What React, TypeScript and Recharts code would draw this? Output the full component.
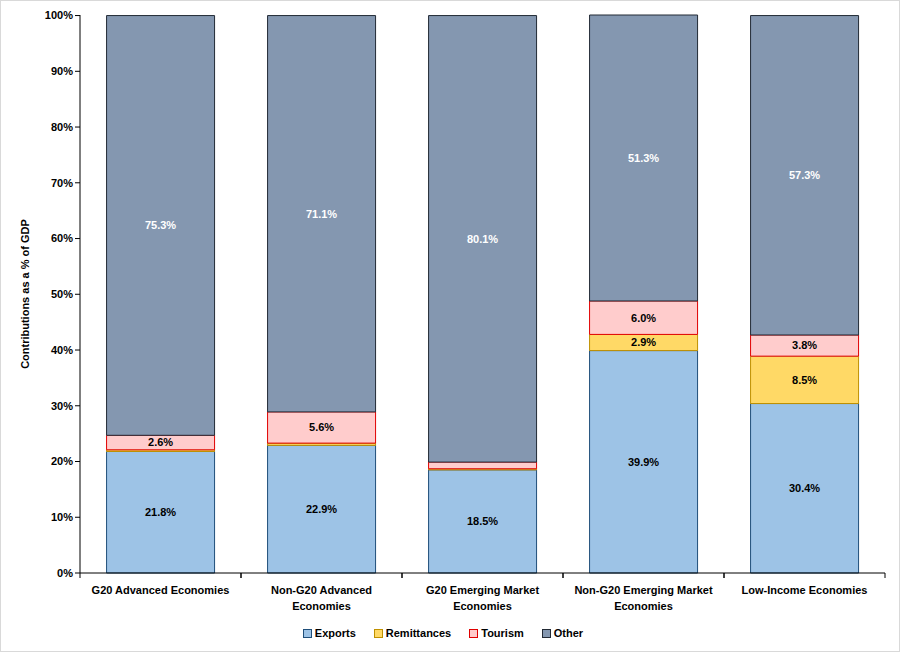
import React from "react";
import {
  BarChart,
  Bar,
  XAxis,
  YAxis,
  Legend,
  LabelList,
} from "recharts";

const CATEGORIES = [
  "G20 Advanced Economies",
  "Non-G20 Advanced Economies",
  "G20 Emerging Market Economies",
  "Non-G20 Emerging Market Economies",
  "Low-Income Economies",
];
const EXPORTS = [21.8, 22.9, 18.5, 39.9, 30.4];
const REMITTANCES = [0.3, 0.4, 0.2, 2.9, 8.5];
const TOURISM = [2.6, 5.6, 1.2, 6.0, 3.8];
const OTHER = [75.3, 71.1, 80.1, 51.3, 57.3];
const Y_TICKS = [0, 10, 20, 30, 40, 50, 60, 70, 80, 90, 100];

const SERIES = [
  { key: "exports", name: "Exports", fill: "#9DC3E6", stroke: "#1F4E79", label: "#000" },
  { key: "remittances", name: "Remittances", fill: "#FFD966", stroke: "#BF9000", label: "#000" },
  { key: "tourism", name: "Tourism", fill: "#FFCCCC", stroke: "#E00000", label: "#000" },
  { key: "other", name: "Other", fill: "#8497B0", stroke: "#222A35", label: "#fff" },
];

const data = CATEGORIES.map((name, i) => ({
  name,
  exports: EXPORTS[i],
  remittances: REMITTANCES[i],
  tourism: TOURISM[i],
  other: OTHER[i],
}));

const FONT = "'Liberation Sans', Arial, sans-serif";

const fmt = (v: any) => (Number(v) >= 2 ? `${Number(v).toFixed(1)}%` : "");

// simple word wrap by character count
function wrap(label: string, max = 23) {
  const lines: string[] = [];
  let cur = "";
  label.split(" ").forEach((w) => {
    const next = cur ? cur + " " + w : w;
    if (next.length > max && cur) {
      lines.push(cur);
      cur = w;
    } else {
      cur = next;
    }
  });
  if (cur) lines.push(cur);
  return lines;
}

function CategoryTick(props: any) {
  const { x, y, payload } = props;
  const half = payload && payload.offset ? payload.offset : 80.5;
  const lines = wrap(String(payload.value));
  return (
    <g>
      <line x1={x - half} y1={y - 8} x2={x - half} y2={y - 3} stroke="#000" />
      <line x1={x + half} y1={y - 8} x2={x + half} y2={y - 3} stroke="#000" />
      <text
        x={x}
        y={y + 13}
        textAnchor="middle"
        fontSize={11}
        fontWeight="bold"
        fontFamily={FONT}
        fill="#000"
      >
        {lines.map((l, i) => (
          <tspan key={i} x={x} dy={i === 0 ? 0 : 16}>
            {l}
          </tspan>
        ))}
      </text>
    </g>
  );
}

function LegendContent() {
  return (
    <div
      style={{
        display: "flex",
        justifyContent: "center",
        gap: 18,
        fontSize: 11,
        fontWeight: "bold",
        fontFamily: FONT,
        color: "#000",
      }}
    >
      {SERIES.map((s) => (
        <div key={s.key} style={{ display: "flex", alignItems: "center" }}>
          <span
            style={{
              display: "inline-block",
              width: 7,
              height: 7,
              background: s.fill,
              border: `1px solid ${s.stroke}`,
              marginRight: 3,
            }}
          />
          {s.name}
        </div>
      ))}
    </div>
  );
}

export default function App() {
  return (
    <div
      style={{
        position: "absolute",
        left: 0,
        top: 0,
        width: 898,
        height: 650,
        border: "1px solid #d9d9d9",
        background: "#fff",
      }}
    >
      <BarChart
        width={898}
        height={650}
        data={data}
        barCategoryGap="16.5%"
        margin={{ top: 14, right: 14, left: 0, bottom: 0 }}
      >
        <XAxis
          dataKey="name"
          interval={0}
          tickLine={false}
          axisLine={{ stroke: "#000" }}
          height={54}
          tick={<CategoryTick />}
        />
        <YAxis
          type="number"
          domain={[0, 100]}
          ticks={Y_TICKS}
          interval={0}
          width={79}
          tickFormatter={(v) => `${v}%`}
          tick={{ fontSize: 11, fontWeight: "bold", fill: "#000", fontFamily: FONT }}
          axisLine={{ stroke: "#000" }}
          tickLine={{ stroke: "#000" }}
          tickSize={5}
          label={{
            value: "Contributions as a % of GDP",
            angle: -90,
            position: "insideLeft",
            offset: 24,
            style: {
              textAnchor: "middle",
              fontSize: 11,
              fontWeight: "bold",
              fill: "#000",
              fontFamily: FONT,
            },
          }}
        />
        <Legend verticalAlign="bottom" height={24} content={<LegendContent />} />
        {SERIES.map((s) => (
          <Bar
            key={s.key}
            dataKey={s.key}
            name={s.name}
            stackId="a"
            fill={s.fill}
            stroke={s.stroke}
            strokeWidth={1}
            isAnimationActive={false}
          >
            <LabelList
              dataKey={s.key}
              position="center"
              formatter={fmt}
              style={{ fontSize: 11, fontWeight: "bold", fill: s.label, fontFamily: FONT }}
            />
          </Bar>
        ))}
      </BarChart>
    </div>
  );
}
